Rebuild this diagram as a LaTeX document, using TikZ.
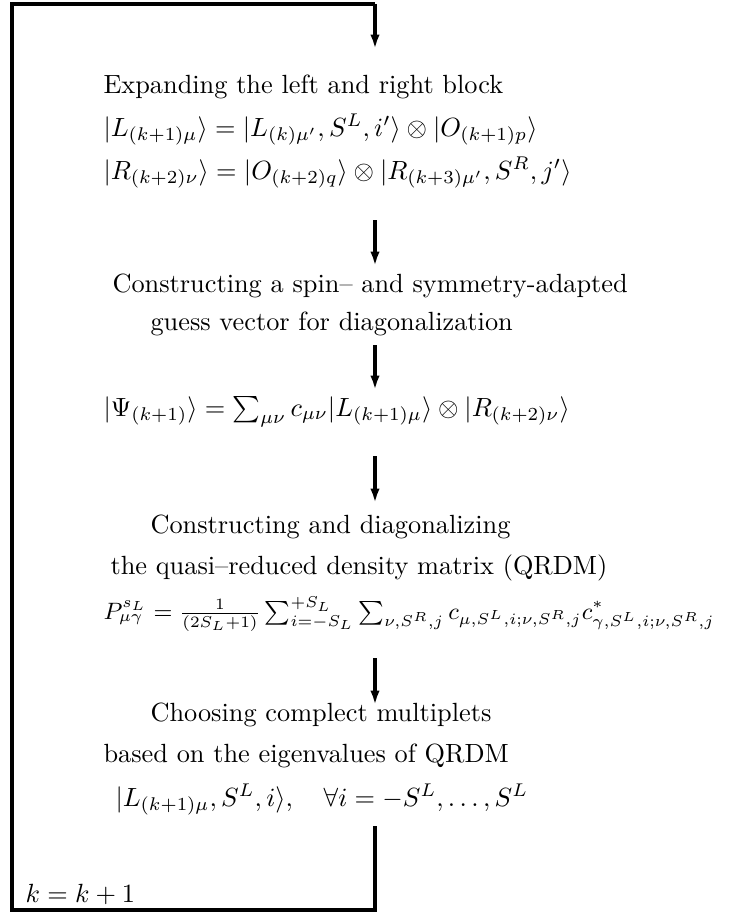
\documentclass[tikz,border=0pt]{standalone}
\usepackage{amsmath}
\usetikzlibrary{arrows.meta}
\tikzset{
  flow/.style={line width=1.2pt,-{Latex[length=5.5pt,width=3.6pt]}},
  loopline/.style={line width=1.2pt},
  txt/.style={anchor=base west,inner sep=0pt},
}
\begin{document}
\begin{tikzpicture}[x=0.38pt,y=-0.38pt]
  \useasboundingbox (0,0) rectangle (733,914);
  % Schleife
  \coordinate (top) at (375,4);
  \coordinate (tl) at (12,4);
  \coordinate (bl) at (12,910);
  \coordinate (br) at (375,910);
  \coordinate (kend) at (375,826);
  \coordinate (in) at (375,49);
  \draw[loopline] (kend) -- (br) -- (bl) -- (tl) -- (top);
  \draw[flow] (top) -- (in);
  % Texte
  \node[txt] (expand) at (103,93) {Expanding the left and right block};
  \node[txt] (eqL) at (103,136) {$|L_{(k+1)\mu}\rangle = |L_{(k)\mu'},S^L,i'\rangle \otimes |O_{(k+1)p}\rangle$};
  \node[txt] (eqR) at (103,179) {$|R_{(k+2)\nu}\rangle = |O_{(k+2)q}\rangle \otimes |R_{(k+3)\mu'},S^R,j'\rangle$};
  \node[txt] (spin) at (112,292) {Constructing a spin-- and symmetry-adapted};
  \node[txt] (guess) at (150,330) {guess vector for diagonalization};
  \node[txt] (psi) at (103,416) {$|\Psi_{(k+1)}\rangle = \sum_{\mu\nu} c_{\mu\nu} |L_{(k+1)\mu}\rangle \otimes |R_{(k+2)\nu}\rangle$};
  \node[txt] (diag) at (150,533) {Constructing and diagonalizing};
  \node[txt] (qrdm) at (110,574) {the quasi--reduced density matrix (QRDM)};
  \node[txt,font=\fontsize{9.1}{11}\selectfont] (peq) at (103,619) {$P^{s_L}_{\mu\gamma} = \frac{1}{(2S_L+1)} \sum_{i=-S_L}^{+S_L} \sum_{\nu,S^R,j} c_{\mu,S^L,i;\nu,S^R,j} c^*_{\gamma,S^L,i;\nu,S^R,j}$};
  \node[txt] (choose) at (150,721) {Choosing complect multiplets};
  \node[txt] (based) at (103,762) {based on the eigenvalues of QRDM};
  \node[txt] (leq) at (115,806) {$|L_{(k+1)\mu},S^L,i\rangle, \quad \forall i = -S^L,\ldots,S^L$};
  \node[txt] (kinc) at (25,902) {$k=k+1$};
  % Pfeile
  \coordinate (a1s) at (375,220); \coordinate (a1e) at (375,266);
  \coordinate (a2s) at (375,345); \coordinate (a2e) at (375,390);
  \coordinate (a3s) at (375,456); \coordinate (a3e) at (375,503);
  \coordinate (a4s) at (375,658); \coordinate (a4e) at (375,705);
  \draw[flow] (a1s) -- (a1e);
  \draw[flow] (a2s) -- (a2e);
  \draw[flow] (a3s) -- (a3e);
  \draw[flow] (a4s) -- (a4e);
\end{tikzpicture}
\end{document}
